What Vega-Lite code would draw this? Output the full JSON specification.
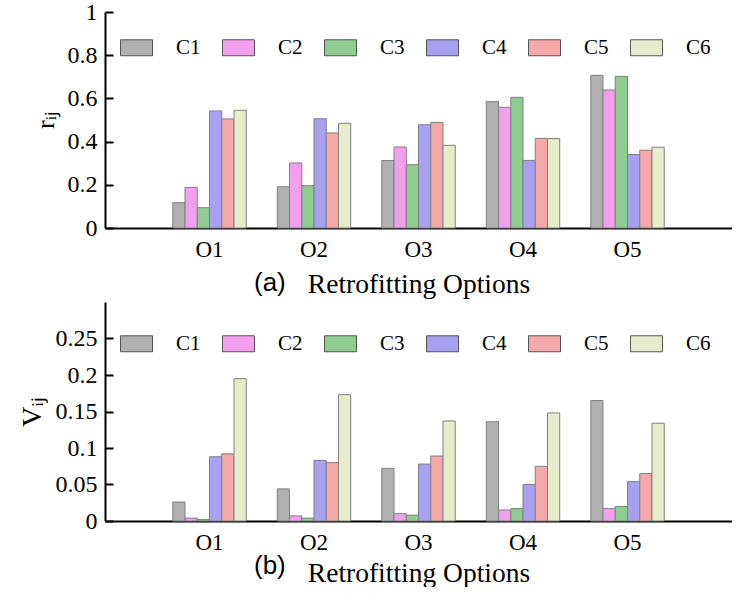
{
  "$schema": "https://vega.github.io/schema/vega-lite/v6.json",
  "padding": {"left": 18, "top": 0, "right": 0, "bottom": 0},
  "spacing": 4,
  "background": "white",
  "config": {
    "view": {"stroke": null},
    "axis": {
      "domainColor": "black",
      "domainWidth": 2,
      "tickColor": "black",
      "tickWidth": 2,
      "labelFont": "Liberation Serif",
      "labelColor": "black",
      "titleFont": "Liberation Serif",
      "titleColor": "black",
      "titleFontWeight": "normal",
      "grid": false
    },
    "legend": {
      "labelFont": "Liberation Serif",
      "labelColor": "black"
    }
  },
  "datasets": {
    "d": [
      {"O": "O1", "C": "C1", "r": 0.117, "v": 0.026},
      {"O": "O1", "C": "C2", "r": 0.188, "v": 0.004},
      {"O": "O1", "C": "C3", "r": 0.094, "v": 0.002},
      {"O": "O1", "C": "C4", "r": 0.542, "v": 0.088},
      {"O": "O1", "C": "C5", "r": 0.505, "v": 0.092},
      {"O": "O1", "C": "C6", "r": 0.545, "v": 0.195},
      {"O": "O2", "C": "C1", "r": 0.191, "v": 0.044},
      {"O": "O2", "C": "C2", "r": 0.301, "v": 0.007},
      {"O": "O2", "C": "C3", "r": 0.196, "v": 0.004},
      {"O": "O2", "C": "C4", "r": 0.506, "v": 0.083},
      {"O": "O2", "C": "C5", "r": 0.44, "v": 0.08},
      {"O": "O2", "C": "C6", "r": 0.485, "v": 0.173},
      {"O": "O3", "C": "C1", "r": 0.312, "v": 0.072},
      {"O": "O3", "C": "C2", "r": 0.375, "v": 0.01},
      {"O": "O3", "C": "C3", "r": 0.293, "v": 0.008},
      {"O": "O3", "C": "C4", "r": 0.478, "v": 0.078},
      {"O": "O3", "C": "C5", "r": 0.489, "v": 0.089},
      {"O": "O3", "C": "C6", "r": 0.383, "v": 0.137},
      {"O": "O4", "C": "C1", "r": 0.585, "v": 0.136},
      {"O": "O4", "C": "C2", "r": 0.559, "v": 0.015},
      {"O": "O4", "C": "C3", "r": 0.605, "v": 0.017},
      {"O": "O4", "C": "C4", "r": 0.313, "v": 0.05},
      {"O": "O4", "C": "C5", "r": 0.415, "v": 0.075},
      {"O": "O4", "C": "C6", "r": 0.414, "v": 0.148},
      {"O": "O5", "C": "C1", "r": 0.707, "v": 0.165},
      {"O": "O5", "C": "C2", "r": 0.639, "v": 0.017},
      {"O": "O5", "C": "C3", "r": 0.702, "v": 0.02},
      {"O": "O5", "C": "C4", "r": 0.34, "v": 0.054},
      {"O": "O5", "C": "C5", "r": 0.36, "v": 0.065},
      {"O": "O5", "C": "C6", "r": 0.374, "v": 0.134}
    ]
  },
  "vconcat": [
    {
      "width": 627,
      "height": 216,
      "data": {"name": "d"},
      "title": {"text": "(a)", "orient": "bottom", "anchor": "start", "frame": "group", "dx": 149, "offset": -28, "font": "Liberation Sans", "fontSize": 26, "fontWeight": "normal", "color": "black"},
      "mark": {"type": "bar", "stroke": "#808080", "strokeWidth": 1},
      "encoding": {
        "x": {"field": "O", "type": "nominal", "scale": {"paddingInner": 0.297, "paddingOuter": 0.6485},
              "axis": {"title": "Retrofitting Options", "labelAngle": 0, "ticks": false, "labelPadding": 10, "labelFontSize": 23, "titleFontSize": 27.5, "titlePadding": 9}},
        "xOffset": {"field": "C", "type": "nominal", "scale": {"paddingInner": 0, "paddingOuter": 0}},
        "y": {"field": "r", "type": "quantitative", "scale": {"domain": [0, 1], "nice": false},
              "axis": {"title": "rᵢⱼ", "values": [0, 0.2, 0.4, 0.6, 0.8, 1], "labelExpr": "datum.value", "tickSize": -8, "labelPadding": 16, "labelFontSize": 24, "titleFontSize": 26, "titlePadding": 9}},
        "fill": {"field": "C", "type": "nominal",
                 "scale": {"domain": ["C1", "C2", "C3", "C4", "C5", "C6"], "range": ["#b0b0b0", "#f2a0ee", "#8fcc8f", "#a8a0f0", "#f5a8a8", "#e6eccc"]},
                 "legend": {"title": null, "orient": "none", "legendX": 15, "legendY": 19, "direction": "horizontal", "columns": 6,
                            "symbolType": "M-1,-0.5H1V0.5H-1Z", "symbolSize": 1024, "symbolStrokeColor": "#555555", "symbolStrokeWidth": 1,
                            "labelFontSize": 21, "labelOffset": 23, "columnPadding": 19, "padding": 0}}
      }
    },
    {
      "width": 627,
      "height": 219,
      "data": {"name": "d"},
      "title": {"text": "(b)", "orient": "bottom", "anchor": "start", "frame": "group", "dx": 149, "offset": -34, "font": "Liberation Sans", "fontSize": 26, "fontWeight": "normal", "color": "black"},
      "mark": {"type": "bar", "stroke": "#808080", "strokeWidth": 1},
      "encoding": {
        "x": {"field": "O", "type": "nominal", "scale": {"paddingInner": 0.297, "paddingOuter": 0.6485},
              "axis": {"title": "Retrofitting Options", "labelAngle": 0, "ticks": false, "labelPadding": 10, "labelFontSize": 23, "titleFontSize": 27.5, "titlePadding": 5}},
        "xOffset": {"field": "C", "type": "nominal", "scale": {"paddingInner": 0, "paddingOuter": 0}},
        "y": {"field": "v", "type": "quantitative", "scale": {"domain": [0, 0.3], "nice": false},
              "axis": {"title": "Vᵢⱼ", "values": [0, 0.05, 0.1, 0.15, 0.2, 0.25], "labelExpr": "datum.value", "tickSize": -8, "labelPadding": 16, "labelFontSize": 24, "titleFontSize": 28, "titlePadding": 9}},
        "fill": {"field": "C", "type": "nominal",
                 "scale": {"domain": ["C1", "C2", "C3", "C4", "C5", "C6"], "range": ["#b0b0b0", "#f2a0ee", "#8fcc8f", "#a8a0f0", "#f5a8a8", "#e6eccc"]},
                 "legend": {"title": null, "orient": "none", "legendX": 15, "legendY": 25, "direction": "horizontal", "columns": 6,
                            "symbolType": "M-1,-0.5H1V0.5H-1Z", "symbolSize": 1024, "symbolStrokeColor": "#555555", "symbolStrokeWidth": 1,
                            "labelFontSize": 21, "labelOffset": 23, "columnPadding": 19, "padding": 0}}
      }
    }
  ],
  "resolve": {"scale": {"fill": "shared"}, "legend": {"fill": "independent"}}
}
